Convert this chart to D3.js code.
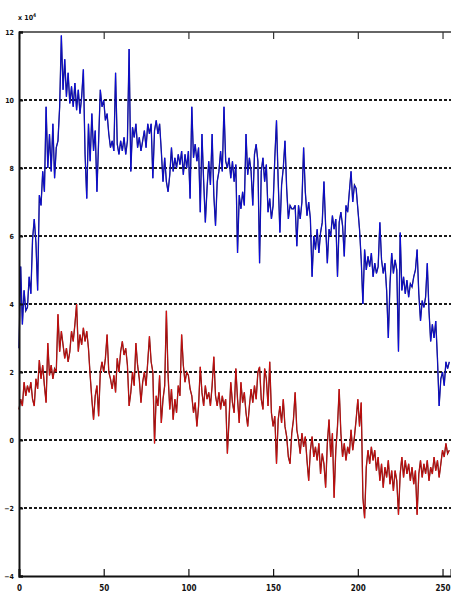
<!DOCTYPE html>
<html>
<head>
<meta charset="utf-8">
<script src="https://cdn.jsdelivr.net/npm/d3@7"></script>
<style>
  html, body { margin: 0; padding: 0; background: #fff; }
  svg { display: block; }
  .lbl { font-family: "DejaVu Sans Condensed", "DejaVu Sans", sans-serif; font-weight: bold; fill: #111; }
</style>
</head>
<body>
<svg id="chart" width="451" height="599"></svg>
<script>
// Upper trace (blue), one value per sample, in units of 10^4
const blueSeries = [
  2.7, 5.1, 3.4, 4.4, 3.8, 3.9, 4.8, 4.3, 5.9, 6.5,
  5.8, 4.4, 7.2, 6.9, 7.9, 7.3, 9.8, 8.0, 9.0, 7.9,
  9.3, 7.7, 8.6, 8.8, 9.8, 11.9, 10.3, 11.2, 10.1, 10.8,
  9.9, 10.4, 9.8, 10.5, 9.7, 10.3, 9.6, 10.1, 10.9, 8.4,
  7.1, 9.3, 8.2, 9.6, 8.5, 9.1, 7.3, 8.8, 10.3, 9.8,
  10.0, 9.4, 9.6, 9.0, 8.6, 8.8, 8.5, 10.8, 8.7, 8.4,
  8.8, 8.5, 8.9, 8.4, 8.8, 11.5, 7.9, 9.2, 8.9, 9.3,
  8.6, 8.9, 8.5, 8.8, 9.1, 8.6, 9.3, 9.0, 9.3, 7.7,
  9.1, 9.4, 9.0, 9.3, 8.5, 7.6, 8.3, 7.6, 7.3, 7.8,
  8.6, 7.9, 8.3, 8.0, 8.4, 8.1, 8.5, 7.8, 8.4, 8.0,
  8.5, 7.1, 9.8, 8.3, 8.7, 8.2, 8.6, 6.7, 9.0, 7.6,
  6.4, 7.4, 8.2, 7.5, 9.0, 7.2, 6.3, 7.6, 7.9, 8.5,
  7.9, 9.8, 8.2, 8.0, 8.3, 7.7, 8.2, 7.6, 8.1, 5.5,
  7.2, 6.8, 7.3, 6.9, 9.0, 7.8, 8.3, 7.9, 6.9, 8.4,
  8.7, 8.2, 5.2, 7.9, 8.3, 7.6, 8.1, 6.7, 7.1, 6.5,
  6.9, 8.3, 9.4, 7.6, 6.1, 7.5, 8.0, 8.8, 7.4, 6.5,
  6.9, 6.8, 6.8, 6.9, 5.7, 6.9, 6.5, 7.0, 8.6, 7.3,
  6.6, 7.0, 6.5, 4.8, 6.0, 5.6, 6.2, 5.5, 6.1, 6.4,
  7.6, 6.3, 5.2, 6.2, 6.0, 6.6, 6.2, 6.5, 4.8, 6.4,
  6.7, 6.3, 5.4, 6.9, 6.7, 7.3, 7.9, 7.0, 7.5, 7.4,
  6.8, 6.2, 5.3, 4.0, 5.6, 5.0, 5.4, 5.1, 5.5, 4.8,
  5.2, 4.9, 5.1, 6.4, 5.3, 4.9, 5.2, 4.4, 3.0, 4.6,
  5.5, 4.9, 5.3, 5.0, 2.6, 6.1, 4.4, 4.8, 4.3, 4.7,
  4.2, 4.6, 4.5, 4.8, 5.0, 5.6, 4.3, 3.5, 4.1, 3.9,
  4.2, 5.2, 3.8, 2.9, 3.4, 3.0, 3.5, 2.4, 1.0, 1.8,
  2.0, 1.6, 2.3, 2.1, 2.3
];

// Lower trace (red), same sampling
const redSeries = [
  0.9, 1.2, 1.0, 1.7, 1.3, 1.6, 1.4, 1.7, 1.2, 1.0,
  1.8, 1.5, 2.35, 1.8, 2.2, 1.6, 1.1, 2.85, 1.9, 2.2,
  1.8, 2.1, 2.0, 3.7, 2.6, 3.2, 2.8, 2.4, 2.7, 2.3,
  2.6, 3.2, 2.9, 3.4, 4.0, 2.6, 3.1, 2.8, 3.3, 2.9,
  3.2, 2.7, 1.9, 1.2, 0.6, 1.3, 1.6, 0.7, 2.0, 2.3,
  2.0, 2.4, 3.1, 2.0, 1.8, 1.5, 1.9, 1.4, 2.4, 2.0,
  2.6, 2.9, 2.5, 2.7, 2.2, 1.0, 1.4, 2.0, 1.6, 2.85,
  2.2, 1.8, 1.1, 1.7, 2.0, 1.6, 2.3, 3.05, 2.3, 2.0,
  -0.1, 1.3, 1.0, 1.9, 0.5, 1.2, 1.6, 3.8, 1.9, 0.9,
  1.5, 0.6, 1.2, 0.8, 1.6, 1.3, 3.1, 2.2, 1.7, 2.0,
  1.9, 1.5, 1.3, 0.8, 1.1, 0.4, 1.0, 2.15, 1.4, 1.0,
  1.6, 1.2, 1.4, 1.0, 1.6, 2.45, 1.3, 1.0, 1.4, 0.9,
  1.3, 1.0, 1.2, -0.4, 0.6, 1.7, 1.1, 0.8, 2.1, 1.2,
  0.5, 1.7, 1.1, 1.4, 0.8, 0.4, 1.0, 1.5, 1.1, 1.6,
  1.2, 2.0, 2.15, 1.2, 0.9, 2.1, 1.8, 1.0, 2.3, 0.8,
  0.4, 0.7, -0.7, 0.6, 1.0, 0.5, 1.2, 0.4, 0.1, -0.5,
  -0.7, 0.2, 0.6, 1.4, 0.3, 0.0, -0.4, 0.2, -0.2, 0.1,
  -0.6, -1.2, -0.3, 0.1, -0.5, -0.2, -0.6, -0.1, -1.0, -0.4,
  -0.7, -1.4, -0.1, 0.6, -0.5, 0.2, -1.7, -0.3, 0.4, 1.5,
  0.2, -0.5, -0.1, -0.6, -0.2, -0.4, 0.3, -0.3, 0.1, 0.6,
  1.2, 0.4, 1.1, -1.7, -2.3, -0.8, -0.3, -0.7, -0.2, -0.6,
  -0.3, -0.9, -0.5, -1.2, -0.7, -1.4, -0.8, -1.1, -0.6, -1.3,
  -0.9, -1.5, -0.9, -1.2, -2.2, -1.0, -0.5, -1.1, -0.6, -1.0,
  -0.7, -1.2, -0.8, -1.3, -0.9, -2.2, -1.0, -0.6, -1.1, -0.7,
  -1.0, -0.6, -1.2, -0.8, -1.0, -0.5, -0.9, -0.6, -1.1, -0.7,
  -0.3, -0.5, -0.1, -0.4, -0.3
];

const xTicks = [0, 50, 100, 150, 200, 250];
const yTicks = [-4, -2, 0, 2, 4, 6, 8, 10, 12];
const yGrid = [-2, 0, 2, 4, 6, 8, 10];
const exponentLabel = "4";

const svg = d3.select("#chart");
const plotLeft = 19, plotTop = 32, plotRight = 451, plotBottom = 576;

const x = d3.scaleLinear().domain([0, 255]).range([plotLeft, plotRight]);
const y = d3.scaleLinear().domain([-4, 12]).range([plotBottom, plotTop]);

// dashed horizontal grid
svg.append("g")
  .selectAll("line")
  .data(yGrid)
  .join("line")
  .attr("x1", plotLeft).attr("x2", plotRight)
  .attr("y1", d => y(d)).attr("y2", d => y(d))
  .attr("stroke", "#1a1a1a")
  .attr("stroke-width", 2)
  .attr("stroke-dasharray", "3,2");

// traces: dark outline under a saturated core
const line = d3.line().x((d, i) => x(i)).y(d => y(d));
function trace(values, dark, bright) {
  svg.append("path").datum(values).attr("d", line)
    .attr("fill", "none").attr("stroke", dark).attr("stroke-width", 1.3)
    .attr("stroke-linejoin", "miter");
  svg.append("path").datum(values).attr("d", line)
    .attr("fill", "none").attr("stroke", bright).attr("stroke-width", 0.7)
    .attr("stroke-linejoin", "miter");
}
trace(blueSeries, "#16164e", "#0a0aff");
trace(redSeries, "#501010", "#f01010");

// frame: top edge
svg.append("line")
  .attr("x1", plotLeft).attr("x2", plotRight).attr("y1", plotTop).attr("y2", plotTop)
  .attr("stroke", "#333").attr("stroke-width", 1.5);

// bottom axis with inward ticks
const xAxis = svg.append("g").attr("transform", `translate(0,${plotBottom})`)
  .call(d3.axisBottom(x).tickValues(xTicks).tickSize(-7).tickPadding(13).tickFormat(d3.format("d")));
xAxis.select(".domain").attr("stroke", "#111").attr("stroke-width", 2);
xAxis.selectAll(".tick line").attr("stroke", "#111").attr("stroke-width", 1.2);
xAxis.selectAll("text").attr("class", "lbl").style("font-size", "8px").attr("dy", "0.3em");

// top edge ticks
svg.append("g").attr("transform", `translate(0,${plotTop})`)
  .call(d3.axisTop(x).tickValues(xTicks).tickSize(-7).tickFormat(""))
  .call(g => g.select(".domain").remove())
  .selectAll(".tick line").attr("stroke", "#333").attr("stroke-width", 1.2);

// left axis
const yAxis = svg.append("g").attr("transform", `translate(${plotLeft},0)`)
  .call(d3.axisLeft(y).tickValues(yTicks).tickSize(-4).tickPadding(5).tickFormat(d3.format("d")));
yAxis.select(".domain").attr("stroke", "#111").attr("stroke-width", 2);
yAxis.selectAll(".tick line").attr("stroke", "#111").attr("stroke-width", 2);
yAxis.selectAll("text").attr("class", "lbl").style("font-size", "7px");

// scale factor above the axis
const exp = svg.append("text").attr("class", "lbl")
  .attr("x", 18).attr("y", 20).style("font-size", "7px");
exp.append("tspan").text("x 10");
exp.append("tspan").attr("dy", -3).style("font-size", "5px").text(exponentLabel);
</script>
</body>
</html>
